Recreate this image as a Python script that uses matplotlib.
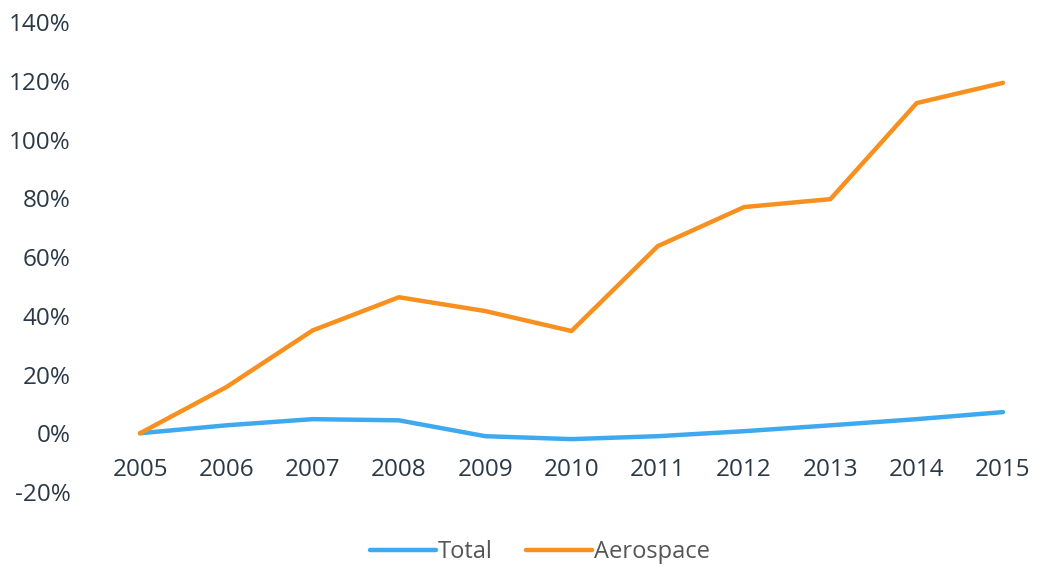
import numpy as np
import matplotlib
matplotlib.use('Agg')
from matplotlib import pyplot as plt
from matplotlib.ticker import FuncFormatter

years = [2005, 2006, 2007, 2008, 2009, 2010, 2011, 2012, 2013, 2014, 2015]
total = [0.0, 2.7, 4.8, 4.4, -1.0, -2.0, -1.0, 0.7, 2.7, 4.8, 7.2]
aerospace = [0.0, 15.7, 35.0, 46.3, 41.6, 34.8, 63.7, 77.0, 79.7, 112.4, 119.3]
yticks = [-20, 0, 20, 40, 60, 80, 100, 120, 140]

plt.rcParams['font.family'] = ['Open Sans', 'DejaVu Sans']
text_col = '#2b3947'

fig = plt.figure(figsize=(10.37, 5.67), dpi=100)
ax = fig.add_axes([90/1037, 75/567, 940/1037, 470/567])

ax.plot(years, total, color='#3fa9ef', linewidth=3.2, label='Total', solid_capstyle='round')
ax.plot(years, aerospace, color='#f7901e', linewidth=3.2, label='Aerospace', solid_capstyle='round')

ax.set_xlim(2005 - 50/86.3, 2015 + 27/86.3)
ax.set_ylim(-20, 140)
ax.set_yticks(yticks)
ax.yaxis.set_major_formatter(FuncFormatter(lambda v, p: '%d%%' % v))
ax.set_xticks(years)

for s in ax.spines.values():
    s.set_visible(False)
ax.spines['bottom'].set_position(('data', 0))
ax.tick_params(axis='x', length=0, pad=18, labelsize=17.5, labelcolor=text_col)
ax.tick_params(axis='y', length=0, pad=14, labelsize=17.5, labelcolor=text_col)

leg = fig.legend(loc='center', bbox_to_anchor=(540/1037, 1 - 552/567), ncol=2,
                 frameon=False, fontsize=17, handlelength=2.8, handletextpad=0.1,
                 columnspacing=1.4)
for t in leg.get_texts():
    t.set_color('#555555')

fig.savefig('out.png', dpi=100)
